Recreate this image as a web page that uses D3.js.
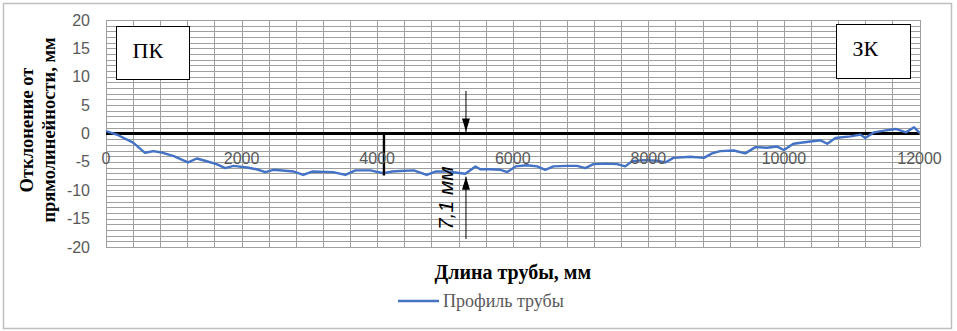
<!DOCTYPE html>
<html>
<head>
<meta charset="utf-8">
<title>Профиль трубы</title>
<script src="https://d3js.org/d3.v7.min.js"></script>
<style>
  body { margin: 0; background: #fff; }
  .grid line { stroke: #9f9f9f; stroke-width: 1px; shape-rendering: crispEdges; }
  .grid path { display: none; }
  .tick-label { font-family: "Liberation Sans", Arial, sans-serif; font-size: 16px; fill: #595959; }
  .serif { font-family: "Liberation Serif", "Times New Roman", serif; }
</style>
</head>
<body>
<script>
// pipe profile
var distance = [0, 180, 400, 575, 700, 840, 1000, 1210, 1340, 1460, 1630, 1760, 1880, 2080, 2220, 2350,
  2470, 2770, 2910, 3040, 3350, 3530, 3680, 3900, 4090, 4220, 4340, 4540, 4730, 4860, 5030, 5300,
  5450, 5520, 5670, 5820, 5920, 6040, 6210, 6360, 6480, 6600, 6800, 6950, 7070, 7190, 7390, 7540,
  7660, 7760, 7930, 8130, 8250, 8370, 8620, 8820, 8940, 9060, 9260, 9430, 9580, 9750, 9900, 10000,
  10140, 10390, 10540, 10640, 10760, 10980, 11130, 11200, 11330, 11480, 11650, 11800, 11920, 12000];
var deviation = [0.4, -0.3, -1.6, -3.4, -3.1, -3.4, -4.0, -5.1, -4.4, -4.8, -5.4, -6.1, -5.7, -6.0, -6.3, -6.8,
  -6.4, -6.7, -7.3, -6.7, -6.8, -7.3, -6.5, -6.5, -7.0, -6.7, -6.6, -6.5, -7.3, -6.7, -6.7, -7.1,
  -5.8, -6.3, -6.3, -6.4, -6.8, -5.8, -5.6, -5.8, -6.4, -5.8, -5.7, -5.7, -6.1, -5.4, -5.3, -5.4,
  -5.8, -4.9, -4.7, -4.8, -5.1, -4.3, -4.1, -4.3, -3.5, -3.1, -3.0, -3.5, -2.4, -2.5, -2.3, -2.9,
  -1.8, -1.4, -1.2, -1.8, -0.8, -0.5, -0.2, -0.8, 0.2, 0.5, 0.8, 0.2, 1.1, 0.1];

var xTicks = [0, 2000, 4000, 6000, 8000, 10000, 12000];
var yTicks = [20, 15, 10, 5, 0, -5, -10, -15, -20];

// annotations: start/end marks and the 7,1 mm dimension
var markerX = 4100, markerBottom = -7.4;
var dimX = 5310, dimTop = 7.5, dimTip = -7.6, dimBottom = -18.6;
var dimLabel = "7,1 мм";

var W = 957, H = 331;
var margin = {left: 106, top: 20, right: 37.5, bottom: 84};
var width = W - margin.left - margin.right,
    height = H - margin.top - margin.bottom;

var x = d3.scaleLinear().domain([0, 12000]).range([0, width]);
var y = d3.scaleLinear().domain([-20, 20]).range([height, 0]);

var svg = d3.select("body").append("svg")
    .attr("width", W).attr("height", H);

// chart border
svg.append("rect")
    .attr("x", 3.5).attr("y", 3.5).attr("width", 948).attr("height", 325)
    .attr("fill", "#fff").attr("stroke", "#bfbfbf").attr("stroke-width", 1.5);

var g = svg.append("g")
    .attr("transform", "translate(" + margin.left + "," + margin.top + ")");

// gridlines: every 400 mm and every 1 mm
g.append("g").attr("class", "grid")
    .attr("transform", "translate(0," + height + ")")
    .call(d3.axisBottom(x).tickValues(d3.range(0, 12001, 400)).tickSize(-height).tickFormat(""));
g.append("g").attr("class", "grid")
    .call(d3.axisLeft(y).tickValues(d3.range(-20, 21, 1)).tickSize(-width).tickFormat(""));

// ПК / ЗК boxes
function labelBox(x0, y0, w, h, txt) {
  svg.append("rect").attr("x", x0).attr("y", y0).attr("width", w).attr("height", h)
      .attr("fill", "#fff").attr("stroke", "#000").attr("stroke-width", 1);
  svg.append("text").attr("class", "serif")
      .attr("x", x0 + 16).attr("y", y0 + 31)
      .style("font-size", "22px").text(txt);
}
labelBox(116.5, 26.5, 73, 53, "ПК");
labelBox(836.5, 24.5, 74, 54, "ЗК");

// zero line
g.append("line")
    .attr("x1", x(0)).attr("x2", x(12000)).attr("y1", y(0)).attr("y2", y(0))
    .attr("stroke", "#000").attr("stroke-width", 2.8);

// profile
var pts = distance.map(function(d, i) { return [d, deviation[i]]; });
var line = d3.line().x(function(d) { return x(d[0]); }).y(function(d) { return y(d[1]); });
g.append("path").datum(pts)
    .attr("fill", "none").attr("stroke", "#4472c4").attr("stroke-width", 2.4)
    .attr("stroke-linejoin", "round").attr("d", line);

// start marker
g.append("line")
    .attr("x1", x(markerX)).attr("x2", x(markerX)).attr("y1", y(0)).attr("y2", y(markerBottom))
    .attr("stroke", "#000").attr("stroke-width", 2.4);

// dimension arrows
var ax = x(dimX);
g.append("line").attr("x1", ax).attr("x2", ax).attr("y1", y(dimTop)).attr("y2", y(0))
    .attr("stroke", "#000").attr("stroke-width", 1);
g.append("line").attr("x1", ax).attr("x2", ax).attr("y1", y(dimTip)).attr("y2", y(dimBottom))
    .attr("stroke", "#000").attr("stroke-width", 1);
function arrowHead(tipY, dir) {
  // dir = 1 points down, -1 points up
  var len = 13, half = 4;
  g.append("path")
      .attr("d", "M" + ax + "," + tipY + "L" + (ax - half) + "," + (tipY - dir * len) +
                 "L" + (ax + half) + "," + (tipY - dir * len) + "Z")
      .attr("fill", "#000");
}
arrowHead(y(0) - 2, 1);
arrowHead(y(dimTip), -1);

g.append("text")
    .attr("transform", "translate(" + (ax - 13) + "," + y((dimTip + dimBottom) / 2 + 1.7) + ") rotate(-90)")
    .attr("text-anchor", "middle")
    .style("font-family", "'Liberation Sans', Arial, sans-serif")
    .style("font-style", "italic").style("font-size", "21px")
    .text(dimLabel);

// tick labels
g.selectAll(".ylab").data(yTicks).enter().append("text")
    .attr("class", "tick-label")
    .attr("x", -16).attr("y", function(d) { return y(d); })
    .attr("dy", "0.35em").attr("text-anchor", "end")
    .text(function(d) { return d; });
g.selectAll(".xlab").data(xTicks).enter().append("text")
    .attr("class", "tick-label")
    .attr("x", function(d) { return x(d); }).attr("y", y(0) + 25)
    .attr("dy", "0.35em").attr("text-anchor", "middle")
    .text(function(d) { return d; });

// axis titles
var yTitle = svg.append("text").attr("class", "serif")
    .attr("transform", "translate(33,130) rotate(-90)")
    .attr("text-anchor", "middle")
    .style("font-size", "18.5px").style("font-weight", "bold");
yTitle.append("tspan").attr("x", 0).attr("y", 0).text("Отклонение от");
yTitle.append("tspan").attr("x", 0).attr("y", 22).text("прямолинейности, мм");

svg.append("text").attr("class", "serif")
    .attr("x", margin.left + width / 2).attr("y", 279)
    .attr("text-anchor", "middle")
    .style("font-size", "20px").style("font-weight", "bold")
    .text("Длина трубы, мм");

// legend
svg.append("line").attr("x1", 398).attr("x2", 439).attr("y1", 301).attr("y2", 301)
    .attr("stroke", "#4472c4").attr("stroke-width", 2.5);
svg.append("text").attr("class", "serif")
    .attr("x", 443).attr("y", 307)
    .style("font-size", "18px").style("fill", "#595959")
    .text("Профиль трубы");
</script>
</body>
</html>
